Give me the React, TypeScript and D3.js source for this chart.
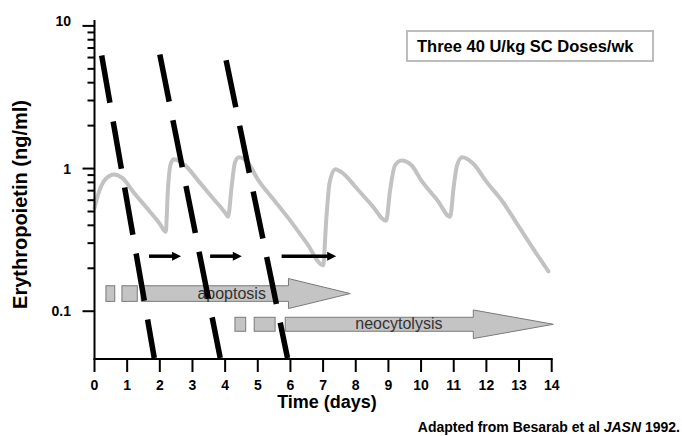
import React, { useEffect, useRef } from 'react'
import * as d3 from 'd3'

// serum EPO after three SC doses per week
const pkDays = [
  0, 0.15, 0.35, 0.6, 0.85, 1.2, 1.6, 2.0, 2.18,
  2.25, 2.32, 2.42, 2.8, 3.2, 3.6, 4.0, 4.09,
  4.2, 4.3, 4.42, 4.7, 5.0, 5.5, 6.0, 6.5, 7.0,
  7.1, 7.2, 7.37, 7.6, 8.0, 8.5, 8.93,
  9.05, 9.2, 9.4, 9.7, 10.0, 10.5, 10.89,
  11.0, 11.1, 11.26, 11.6, 12.0, 12.5, 13.0, 13.5, 13.9,
]
const pkValues = [
  0.53, 0.7, 0.85, 0.91, 0.86, 0.68, 0.53, 0.41, 0.36,
  0.72, 1.05, 1.16, 1.04, 0.81, 0.63, 0.49, 0.46,
  0.75, 1.1, 1.2, 1.1, 0.84, 0.6, 0.43, 0.3, 0.21,
  0.45, 0.8, 0.99, 0.93, 0.74, 0.55, 0.43,
  0.7, 1.05, 1.14, 1.06, 0.83, 0.6, 0.46,
  0.75, 1.05, 1.2, 1.08, 0.81, 0.585, 0.39, 0.26, 0.19,
]

// thick dashed decay lines: [startDay, startValue, endDay]
const decayLines = [
  [0.22, 6.2, 1.83],
  [2.0, 6.3, 3.85],
  [4.03, 5.75, 5.91],
]

// short black arrows [fromDay, toDay] at one level
const shiftArrows = [
  [1.67, 2.65],
  [3.54, 4.51],
  [5.73, 7.4],
]
const shiftLevel = 0.243

// gray process arrows
const processArrows = [
  { label: 'apoptosis', level: 0.133, boxes: [[0.35, 0.62], [0.84, 1.31]], start: 1.43, headStart: 5.94, tip: 7.83, labelDay: 4.2 },
  { label: 'neocytolysis', level: 0.081, boxes: [[4.3, 4.63], [4.89, 5.53]], start: 5.84, headStart: 11.6, tip: 14.05, labelDay: 9.32 },
]

const xTicks = d3.range(0, 15)
const yMajor = [0.1, 1, 10]

const W = 682
const H = 436
const FONT = '"Liberation Sans", Arial, Helvetica, sans-serif'

export default function App() {
  const svgRef = useRef<SVGSVGElement>(null)

  useEffect(() => {
    if (!svgRef.current) return
    const svg = d3.select(svgRef.current)
    svg.selectAll('*').remove()

    const x = d3.scaleLinear().domain([0, 14]).range([94.5, 551.7])
    const y = d3.scaleLog().domain([0.047, 11]).range([358, 20])

    // PK curve
    const line = d3
      .line<number>()
      .x((d, i) => x(pkDays[i]))
      .y((d) => y(d))
      .curve(d3.curveMonotoneX)
    svg
      .append('path')
      .attr('d', line(pkValues))
      .attr('fill', 'none')
      .attr('stroke', '#c2c2c2')
      .attr('stroke-width', 4)
      .attr('stroke-linecap', 'round')

    // gray arrows
    processArrows.forEach((a, i) => {
      const cy = y(a.level)
      const hb = i === 0 ? 7.8 : 7
      const hh = i === 0 ? 15 : 14.3
      const g = svg.append('g')
      a.boxes.forEach(([b0, b1]) => {
        g.append('rect')
          .attr('x', x(b0))
          .attr('y', cy - hb)
          .attr('width', x(b1) - x(b0))
          .attr('height', hb * 2)
          .attr('fill', '#c4c4c4')
          .attr('stroke', '#7a7a7a')
          .attr('stroke-width', 1)
      })
      const x0 = x(a.start)
      const xh = x(a.headStart)
      const xt = x(a.tip)
      const pts: [number, number][] = [
        [x0, cy - hb], [xh, cy - hb], [xh, cy - hh], [xt, cy],
        [xh, cy + hh], [xh, cy + hb], [x0, cy + hb],
      ]
      g.append('path')
        .attr('d', d3.line()(pts) + 'Z')
        .attr('fill', '#c4c4c4')
        .attr('stroke', '#7a7a7a')
        .attr('stroke-width', 1)
      g.append('text')
        .attr('x', x(a.labelDay))
        .attr('y', cy + 5)
        .attr('text-anchor', 'middle')
        .attr('font-family', FONT)
        .attr('font-size', 16)
        .attr('fill', '#333')
        .text(a.label)
    })

    // dashed decay lines
    decayLines.forEach(([d0, v0, d1]) => {
      svg
        .append('line')
        .attr('x1', x(d0))
        .attr('y1', y(v0))
        .attr('x2', x(d1))
        .attr('y2', y(y.domain()[0]))
        .attr('stroke', '#000')
        .attr('stroke-width', 5.5)
        .attr('stroke-dasharray', '48,19')
    })

    // short black arrows
    shiftArrows.forEach(([d0, d1]) => {
      const yy = y(shiftLevel)
      svg
        .append('line')
        .attr('x1', x(d0))
        .attr('y1', yy)
        .attr('x2', x(d1) - 8)
        .attr('y2', yy)
        .attr('stroke', '#000')
        .attr('stroke-width', 3.5)
      svg
        .append('path')
        .attr('d', `M${x(d1) - 9},${yy - 4.5}L${x(d1)},${yy}L${x(d1) - 9},${yy + 4.5}Z`)
        .attr('fill', '#000')
    })

    // axes
    const axis = svg.append('g').attr('stroke', '#000').attr('stroke-width', 2)
    axis.append('line').attr('x1', x(0)).attr('x2', x(0)).attr('y1', 20).attr('y2', 359)
    axis.append('line').attr('x1', x(0) - 1).attr('x2', x(14) + 1).attr('y1', 359).attr('y2', 359)

    xTicks.forEach((t) => {
      axis.append('line').attr('x1', x(t)).attr('x2', x(t)).attr('y1', 359).attr('y2', 372)
      svg
        .append('text')
        .attr('x', x(t))
        .attr('y', 390)
        .attr('text-anchor', 'middle')
        .attr('font-family', FONT)
        .attr('font-weight', 'bold')
        .attr('font-size', 14)
        .text(t)
    })

    const minor = y.ticks().filter((t) => t >= 0.0999 && t <= 10.001)
    minor.forEach((t) => {
      const major = yMajor.some((m) => Math.abs(m - t) < 1e-6)
      axis
        .append('line')
        .attr('x1', x(0) - (major ? 12 : 7))
        .attr('x2', x(0))
        .attr('y1', y(t))
        .attr('y2', y(t))
    })
    yMajor.forEach((t) => {
      svg
        .append('text')
        .attr('x', 71)
        .attr('y', y(t) + (t === 10 ? 0 : 5))
        .attr('text-anchor', 'end')
        .attr('font-family', FONT)
        .attr('font-weight', 'bold')
        .attr('font-size', 14)
        .text(String(t))
    })

    // axis titles
    svg
      .append('text')
      .attr('x', 327)
      .attr('y', 408)
      .attr('text-anchor', 'middle')
      .attr('font-family', FONT)
      .attr('font-weight', 'bold')
      .attr('font-size', 18)
      .text('Time (days)')
    svg
      .append('text')
      .attr('transform', 'translate(27,204.5) rotate(-90)')
      .attr('text-anchor', 'middle')
      .attr('font-family', FONT)
      .attr('font-weight', 'bold')
      .attr('font-size', 20)
      .text('Erythropoietin (ng/ml)')

    // legend box
    svg
      .append('rect')
      .attr('x', 407)
      .attr('y', 31)
      .attr('width', 246)
      .attr('height', 30)
      .attr('fill', '#fff')
      .attr('stroke', '#bdbdbd')
      .attr('stroke-width', 2)
    svg
      .append('text')
      .attr('x', 417)
      .attr('y', 52)
      .attr('font-family', FONT)
      .attr('font-weight', 'bold')
      .attr('font-size', 16.5)
      .text('Three 40 U/kg SC Doses/wk')

    // source note
    const note = svg
      .append('text')
      .attr('x', 680)
      .attr('y', 432)
      .attr('text-anchor', 'end')
      .attr('font-family', FONT)
      .attr('font-weight', 'bold')
      .attr('font-size', 14)
    note.append('tspan').text('Adapted from Besarab et al ')
    note.append('tspan').attr('font-style', 'italic').text('JASN')
    note.append('tspan').text(' 1992.')
  }, [])

  return (
    <svg
      ref={svgRef}
      width={W}
      height={H}
      style={{ position: 'absolute', left: 0, top: 0, background: '#fff' }}
    />
  )
}
